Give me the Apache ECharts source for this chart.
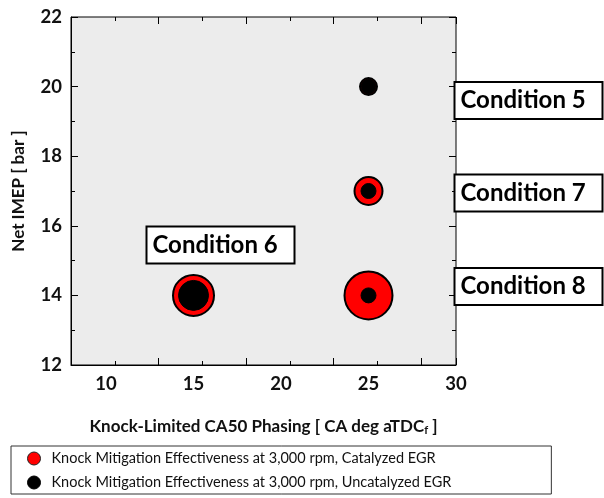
<!DOCTYPE html>
<html>
<head>
<meta charset="utf-8">
<script src="https://cdn.jsdelivr.net/npm/echarts@6/dist/echarts.min.js"></script>
<style>
  html, body { margin: 0; padding: 0; background: #fff; }
  #chart { width: 604px; height: 498px; }
</style>
</head>
<body>
<div id="chart"></div>
<script>
// Operating conditions: knock-limited CA50 phasing vs. net IMEP
const conditions = ['Condition 5', 'Condition 7', 'Condition 8', 'Condition 6'];
const ca50Phasing = [25, 25, 25, 15];          // CA deg aTDCf
const netImep = [20, 17, 14, 14];              // bar
// Marker diameters (px) showing knock mitigation effectiveness
const catalyzedSize = [17, 28, 48, 41];
const uncatalyzedSize = [15, 15, 15, 30];

const xTicks = [10, 15, 20, 25, 30];
const yTicks = [12, 14, 16, 18, 20, 22];

const catalyzedName = 'Knock Mitigation Effectiveness at 3,000 rpm, Catalyzed EGR';
const uncatalyzedName = 'Knock Mitigation Effectiveness at 3,000 rpm, Uncatalyzed EGR';

// Annotation placement per condition: [position, distance, offsetX, offsetY]
const labelPlacement = [
  ['right', 87, 0, 14],
  ['right', 87, 0, 2],
  ['right', 87, 0, -9],
  ['top', 33, -46, 0]
];

const points = (sizes) => ca50Phasing.map((x, i) => [x, netImep[i], sizes[i]]);

const chart = echarts.init(document.getElementById('chart'), null, { renderer: 'canvas' });

const tickFont = { fontFamily: 'Lato', fontWeight: 'bold', fontSize: 18.5, color: '#111' };

const option = {
  animation: false,
  grid: {
    left: 71, right: 148, top: 17, bottom: 133,
    show: true, backgroundColor: '#ececec', borderColor: '#000', borderWidth: 1
  },
  xAxis: [{
    type: 'value', min: 8, max: 30, interval: 5,
    axisLine: { show: true, onZero: false, lineStyle: { color: '#000' } },
    axisTick: { inside: true, length: 7, lineStyle: { color: '#000' } },
    minorTick: { show: true, splitNumber: 2, length: 4, lineStyle: { color: '#000' } },
    splitLine: { show: false },
    axisLabel: Object.assign({ margin: 10, customValues: xTicks }, tickFont),
    name: '{t|Knock-Limited CA50 Phasing [ CA deg aTDC}{s|f}{t| ]}',
    nameLocation: 'middle', nameGap: 52,
    nameTextStyle: {
      rich: {
        t: { fontFamily: 'Lato', fontWeight: 'bold', fontSize: 17, color: '#111' },
        s: { fontFamily: 'Lato', fontWeight: 'bold', fontSize: 11, color: '#111', verticalAlign: 'bottom', padding: [8, 0, 0, 0] }
      }
    }
  }, {
    type: 'value', position: 'top', min: 8, max: 30, interval: 5,
    axisLine: { show: false },
    axisTick: { inside: true, length: 7, lineStyle: { color: '#000' } },
    minorTick: { show: true, splitNumber: 2, length: 4, lineStyle: { color: '#000' } },
    splitLine: { show: false }, axisLabel: { show: false }
  }],
  yAxis: [{
    type: 'value', min: 12, max: 22, interval: 2,
    axisLine: { show: true, onZero: false, lineStyle: { color: '#000' } },
    axisTick: { inside: true, length: 7, lineStyle: { color: '#000' } },
    minorTick: { show: true, splitNumber: 2, length: 4, lineStyle: { color: '#000' } },
    splitLine: { show: false },
    axisLabel: Object.assign({ margin: 9, customValues: yTicks }, tickFont),
    name: 'Net IMEP [ bar ]',
    nameLocation: 'middle', nameGap: 44,
    nameTextStyle: { fontFamily: 'Lato', fontWeight: 'bold', fontSize: 17, color: '#111' }
  }, {
    type: 'value', position: 'right', min: 12, max: 22, interval: 2,
    axisLine: { show: false },
    axisTick: { inside: true, length: 7, lineStyle: { color: '#000' } },
    minorTick: { show: true, splitNumber: 2, length: 4, lineStyle: { color: '#000' } },
    splitLine: { show: false }, axisLabel: { show: false }
  }],
  legend: {
    orient: 'vertical', left: 11, top: 446, width: 442,
    backgroundColor: '#fff', borderColor: '#333', borderWidth: 1,
    padding: [5, 100, 4, 16], itemGap: 9,
    itemWidth: 13, itemHeight: 14,
    textStyle: { fontFamily: 'Lato', fontSize: 14.5, color: '#111', padding: [0, 0, 0, 6] },
    data: [
      { name: catalyzedName, icon: 'circle', itemStyle: { color: '#ff0000', borderColor: '#222', borderWidth: 1 } },
      { name: uncatalyzedName, icon: 'circle', itemStyle: { color: '#000', borderColor: '#000', borderWidth: 1 } }
    ]
  },
  series: [{
    name: catalyzedName,
    type: 'scatter',
    data: points(catalyzedSize),
    symbol: 'circle',
    symbolSize: (v) => v[2],
    itemStyle: { color: '#ff0000', borderColor: '#000', borderWidth: 2, opacity: 1 },
    z: 2
  }, {
    name: uncatalyzedName,
    type: 'scatter',
    data: points(uncatalyzedSize),
    symbol: 'circle',
    symbolSize: (v) => v[2],
    itemStyle: { color: '#000', borderColor: '#000', borderWidth: 1, opacity: 1 },
    z: 3
  }, {
    name: 'annotations',
    type: 'scatter',
    silent: true,
    symbolSize: 0,
    itemStyle: { opacity: 1 },
    data: ca50Phasing.map((x, i) => ({
      value: [x, netImep[i]],
      name: conditions[i],
      label: {
        show: true,
        position: labelPlacement[i][0],
        distance: labelPlacement[i][1],
        offset: [labelPlacement[i][2], labelPlacement[i][3]],
        formatter: conditions[i],
        width: 137, height: 34, lineHeight: 34,
        align: 'left',
        padding: [1, 4, 0, 5],
        fontFamily: 'Lato', fontWeight: 'bold', fontSize: 24, color: '#000',
        opacity: 1,
        backgroundColor: '#fff', borderColor: '#000', borderWidth: 2
      }
    })),
    z: 5
  }]
};

chart.setOption(option);
</script>
</body>
</html>
